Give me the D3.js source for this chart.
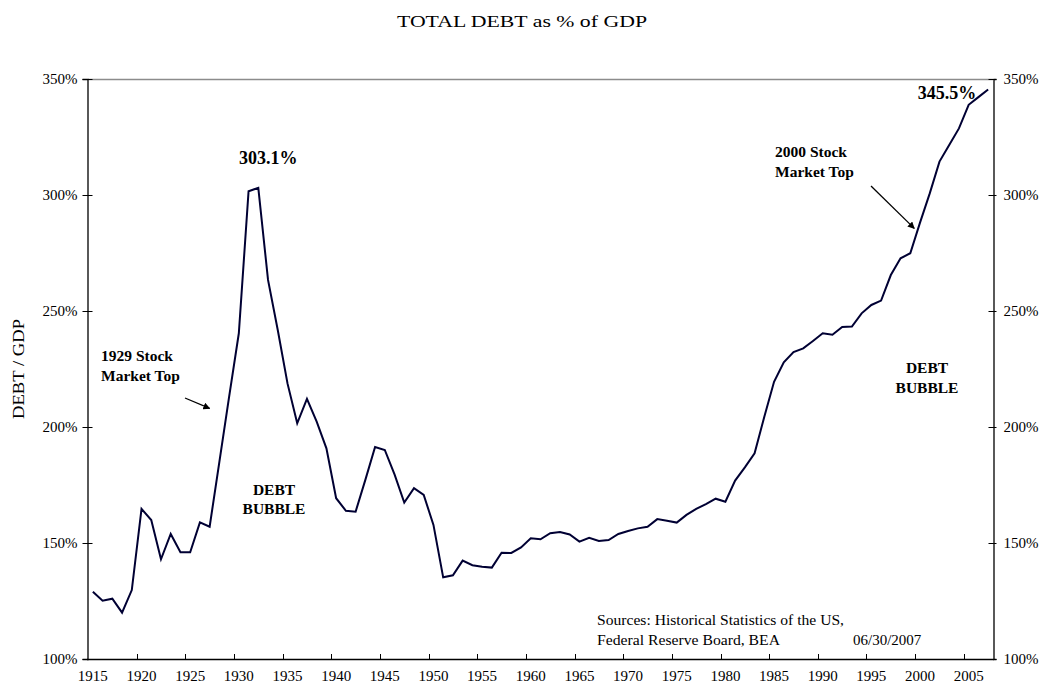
<!DOCTYPE html>
<html>
<head>
<meta charset="utf-8">
<script src="https://cdn.jsdelivr.net/npm/d3@7/dist/d3.min.js"></script>
<style>
  html, body { margin: 0; padding: 0; background: #fff; }
  svg text { font-family: "Liberation Serif", "Times New Roman", serif; fill: #000; }
</style>
</head>
<body>
<svg id="chart" width="1044" height="690"></svg>
<script>
// Total credit market debt as a share of GDP, yearly
const years = [
  1915, 1916, 1917, 1918, 1919, 1920, 1921, 1922, 1923, 1924,
  1925, 1926, 1927, 1928, 1929, 1930, 1931, 1932, 1933, 1934,
  1935, 1936, 1937, 1938, 1939, 1940, 1941, 1942, 1943, 1944,
  1945, 1946, 1947, 1948, 1949, 1950, 1951, 1952, 1953, 1954,
  1955, 1956, 1957, 1958, 1959, 1960, 1961, 1962, 1963, 1964,
  1965, 1966, 1967, 1968, 1969, 1970, 1971, 1972, 1973, 1974,
  1975, 1976, 1977, 1978, 1979, 1980, 1981, 1982, 1983, 1984,
  1985, 1986, 1987, 1988, 1989, 1990, 1991, 1992, 1993, 1994,
  1995, 1996, 1997, 1998, 1999, 2000, 2001, 2002, 2003, 2004,
  2005, 2006, 2007
];
const debtToGdp = [
  129.0, 125.1, 126.0, 120.0, 129.7, 164.7, 159.9, 143.0, 153.9, 146.0,
  146.0, 158.9, 157.0, 185.0, 213.0, 240.4, 301.6, 303.1, 263.4, 241.8,
  218.8, 201.6, 212.1, 202.3, 190.8, 169.3, 163.9, 163.5, 177.2, 191.4,
  190.1, 179.6, 167.4, 173.6, 170.7, 157.8, 135.2, 136.1, 142.4, 140.4,
  139.8, 139.4, 145.8, 145.7, 148.1, 152.0, 151.6, 154.2, 154.7, 153.7,
  150.6, 152.2, 150.9, 151.3, 153.9, 155.2, 156.3, 157.0, 160.3, 159.6,
  158.8, 162.1, 164.7, 166.8, 169.1, 167.8, 176.9, 182.6, 188.7, 204.4,
  219.5, 227.9, 232.3, 233.9, 237.1, 240.4, 239.8, 243.1, 243.3, 249.0,
  252.6, 254.5, 265.5, 272.7, 274.9, 288.1, 300.7, 314.4, 321.6, 328.7,
  338.9, 342.2, 345.5
];
const yTicks = [100, 150, 200, 250, 300, 350];
const xTickYears = [1915, 1920, 1925, 1930, 1935, 1940, 1945, 1950, 1955,
                    1960, 1965, 1970, 1975, 1980, 1985, 1990, 1995, 2000, 2005];

const svg = d3.select("#chart");
const plot = { left: 88, right: 993, top: 79, bottom: 659 };

const x = d3.scaleBand().domain(years).range([plot.left, plot.right]).paddingInner(0).paddingOuter(0);
const y = d3.scaleLinear().domain([100, 350]).range([plot.bottom, plot.top]);
const cx = yr => x(yr) + x.bandwidth() / 2;
const fmtPct = d => d + "%";

// Arrow marker
svg.append("defs").append("marker")
  .attr("id", "arrow")
  .attr("viewBox", "0 0 10 10")
  .attr("refX", 9).attr("refY", 5)
  .attr("markerWidth", 7).attr("markerHeight", 7)
  .attr("markerUnits", "userSpaceOnUse")
  .attr("orient", "auto")
  .append("path").attr("d", "M0,0 L10,5 L0,10 z").attr("fill", "#000");

// Title
svg.append("text")
  .attr("x", 522).attr("y", 27)
  .attr("text-anchor", "middle")
  .attr("textLength", 250).attr("lengthAdjust", "spacingAndGlyphs")
  .style("font-size", "17px")
  .text("TOTAL DEBT as % of GDP");

// Top frame line
svg.append("line")
  .attr("x1", plot.left).attr("x2", plot.right)
  .attr("y1", plot.top + 0.5).attr("y2", plot.top + 0.5)
  .attr("stroke", "#8c8c8c").attr("stroke-width", 1.5);

// Left axis
const leftAxis = d3.axisLeft(y).tickValues(yTicks).tickFormat(fmtPct).tickSize(5).tickPadding(6);
const gL = svg.append("g").attr("transform", `translate(${plot.left - 0.5},0)`).call(leftAxis);
gL.select(".domain").attr("stroke", "#000").attr("stroke-width", 1.3);
gL.selectAll(".tick line").attr("x1", 5).attr("x2", -5).attr("stroke", "#000");
gL.selectAll(".tick text").style("font-size", "15px").attr("x", -10);

// Right axis
const rightAxis = d3.axisRight(y).tickValues(yTicks).tickFormat(fmtPct).tickSize(3).tickPadding(6);
const gR = svg.append("g").attr("transform", `translate(${plot.right + 0.5},0)`).call(rightAxis);
gR.select(".domain").attr("stroke", "#000").attr("stroke-width", 1.3);
gR.selectAll(".tick line").attr("x1", -5).attr("x2", 3).attr("stroke", "#000");
gR.selectAll(".tick text").style("font-size", "15px").attr("x", 10);

// Bottom axis: ticks on category boundaries, labels centred in categories
const gB = svg.append("g");
gB.append("line")
  .attr("x1", plot.left - 1).attr("x2", plot.right + 1)
  .attr("y1", plot.bottom + 0.5).attr("y2", plot.bottom + 0.5)
  .attr("stroke", "#000").attr("stroke-width", 1.3);
gB.selectAll("line.xt").data(xTickYears.filter(d => d > years[0])).join("line")
  .attr("class", "xt")
  .attr("x1", d => Math.round(x(d)) + 0.5).attr("x2", d => Math.round(x(d)) + 0.5)
  .attr("y1", plot.bottom).attr("y2", plot.bottom - 5)
  .attr("stroke", "#000");
gB.append("line")
  .attr("x1", plot.right - 4).attr("x2", plot.right)
  .attr("y1", plot.bottom + 0.5).attr("y2", plot.bottom + 0.5)
  .attr("stroke", "#000");
gB.selectAll("text.xl").data(xTickYears).join("text")
  .attr("class", "xl")
  .attr("x", d => cx(d)).attr("y", plot.bottom + 22)
  .attr("text-anchor", "middle")
  .style("font-size", "15px")
  .text(d => d);

// Y axis title
svg.append("text")
  .attr("transform", `translate(24,369) rotate(-90)`)
  .attr("text-anchor", "middle")
  .attr("textLength", 100).attr("lengthAdjust", "spacingAndGlyphs")
  .style("font-size", "17px")
  .text("DEBT / GDP");

// Debt line
const line = d3.line().x((d, i) => cx(years[i])).y(d => y(d));
svg.append("path")
  .datum(debtToGdp)
  .attr("d", line)
  .attr("fill", "none")
  .attr("stroke", "#000033")
  .attr("stroke-width", 2)
  .attr("stroke-linejoin", "miter");

// Peak value labels
const peak1929 = debtToGdp[years.indexOf(1932)];
const last = debtToGdp[debtToGdp.length - 1];
svg.append("text")
  .attr("x", cx(1932) + 10).attr("y", y(peak1929) - 24)
  .attr("text-anchor", "middle")
  .style("font-size", "18px").style("font-weight", "bold")
  .text(peak1929.toFixed(1) + "%");
svg.append("text")
  .attr("x", cx(2007) - 12).attr("y", y(last) + 10)
  .attr("text-anchor", "end")
  .style("font-size", "18px").style("font-weight", "bold")
  .text(last.toFixed(1) + "%");

// Annotations
function twoLine(xp, yp, anchor, l1, l2, gap) {
  const t = svg.append("text")
    .attr("text-anchor", anchor)
    .style("font-size", "15.5px").style("font-weight", "bold");
  t.append("tspan").attr("x", xp).attr("y", yp).text(l1);
  t.append("tspan").attr("x", xp).attr("y", yp + gap).text(l2);
}
twoLine(101, 361, "start", "1929 Stock", "Market Top", 19.5);
twoLine(775, 157, "start", "2000 Stock", "Market Top", 20);
twoLine(274, 495, "middle", "DEBT", "BUBBLE", 18.5);
twoLine(927, 373, "middle", "DEBT", "BUBBLE", 19.5);

svg.append("line")
  .attr("x1", 185).attr("y1", 398)
  .attr("x2", cx(1927)).attr("y2", y(208))
  .attr("stroke", "#000").attr("stroke-width", 1.3)
  .attr("marker-end", "url(#arrow)");
svg.append("line")
  .attr("x1", 871).attr("y1", 186)
  .attr("x2", cx(1999) + 4).attr("y2", y(285.6))
  .attr("stroke", "#000").attr("stroke-width", 1.3)
  .attr("marker-end", "url(#arrow)");

// Source note
const src = svg.append("text").style("font-size", "15px");
src.append("tspan").attr("x", 597).attr("y", 625)
  .attr("textLength", 247).attr("lengthAdjust", "spacingAndGlyphs")
  .text("Sources: Historical Statistics of the US,");
src.append("tspan").attr("x", 597).attr("y", 645)
  .attr("textLength", 183).attr("lengthAdjust", "spacingAndGlyphs")
  .text("Federal Reserve Board, BEA");
svg.append("text").attr("x", 853).attr("y", 645).style("font-size", "15px").text("06/30/2007");
</script>
</body>
</html>
